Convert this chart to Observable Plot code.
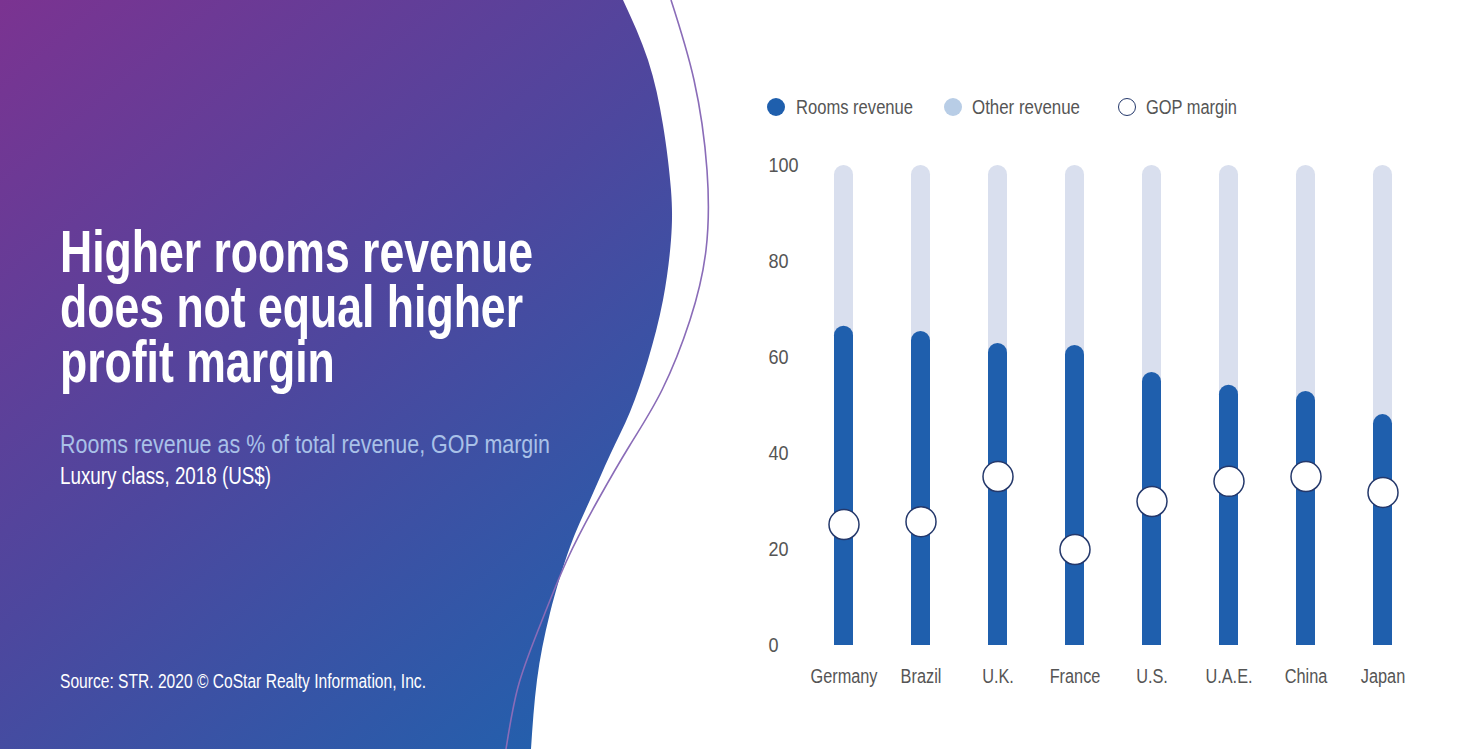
<!DOCTYPE html>
<html><head><meta charset="utf-8">
<script src="https://cdn.jsdelivr.net/npm/d3@7"></script>
<script src="https://cdn.jsdelivr.net/npm/@observablehq/plot@0.6"></script>
<style>
html,body{margin:0;padding:0;background:#fff}
body{width:1469px;height:749px;overflow:hidden;position:relative;font-family:"Liberation Sans",Arial,sans-serif}
#bg{position:absolute;left:0;top:0}
.t{position:absolute;white-space:nowrap;line-height:1;transform-origin:0 0}
.ttl{position:absolute;left:60px;white-space:nowrap;font-size:60px;line-height:55px;height:55px;font-weight:bold;color:#fff;transform-origin:0 0}
#sub{left:60px;top:431px;font-size:26px;color:#a9c1e8}
#sub2{left:60px;top:464.5px;font-size:23px;color:#fff}
#src{left:60px;top:671px;font-size:20px;color:#fff}
.lg{position:absolute;top:97px;font-size:20px;color:#555;line-height:20px;white-space:nowrap;transform-origin:0 0}
.sw{position:absolute;width:18px;height:18px;border-radius:50%;top:98px;box-sizing:border-box}
#chart{position:absolute;left:740px;top:140px}
</style></head><body>
<svg id="bg" width="1469" height="749"></svg>
<div class="ttl" style="top:224px" data-s="title">Higher rooms revenue</div>
<div class="ttl" style="top:279px" data-s="title">does not equal higher</div>
<div class="ttl" style="top:334px" data-s="title">profit margin</div>
<div id="sub" class="t" data-w="490">Rooms revenue as % of total revenue, GOP margin</div>
<div id="sub2" class="t" data-w="211">Luxury class, 2018 (US$)</div>
<div id="src" class="t" data-w="366">Source: STR. 2020 © CoStar Realty Information, Inc.</div>
<div id="legend"></div>
<div id="chart"></div>
<script>
// ---- data ----
const countries = ["Germany","Brazil","U.K.","France","U.S.","U.A.E.","China","Japan"];
const roomsRevenue = [66.5,65.4,62.9,62.5,56.9,54.2,52.9,48.1];
const totalRevenue = [100,100,100,100,100,100,100,100];
const gopMargin = [25.2,25.8,35.2,20.0,30.0,34.2,35.2,31.9];
const yTicks = [0,20,40,60,80,100];
const legendLabels = ["Rooms revenue","Other revenue","GOP margin"];

const colRooms = "#1f5fad", colOther = "#d9dfee", colOtherLegend = "#b8cde6", colGop = "#24386b";
const FONT = '"Liberation Sans",Arial,sans-serif';

// ---- decorative background ----
const bg = d3.select("#bg");
const defs = bg.append("defs");
const grad = defs.append("linearGradient").attr("id","g").attr("gradientUnits","userSpaceOnUse")
  .attr("x1",0).attr("y1",0).attr("x2",620).attr("y2",749);
grad.append("stop").attr("offset",0).attr("stop-color","#7b3391");
grad.append("stop").attr("offset",0.5).attr("stop-color","#4d479e");
grad.append("stop").attr("offset",1).attr("stop-color","#1f62ae");
const edge = [[623,0],[648,60],[663,125],[671,190],[671,240],[663,300],[648,360],[630,412],[610,455],[590,500],[570,547],[550,613],[537,680],[531,749]];
const curve = d3.line().curve(d3.curveNatural);
bg.append("path").attr("d", "M0,0L" + curve(edge).slice(1) + "L0,749Z").attr("fill","url(#g)");
const wave = [[671,0],[694,80],[707,170],[706,250],[690,320],[662,390],[630,445],[598,500],[567,560],[539,628],[518,687],[506,749]];
bg.append("path").attr("d", curve(wave)).attr("fill","none").attr("stroke","#8a6cb8").attr("stroke-width",1.6);

// ---- legend ----
const lg = d3.select("#legend");
const swX = [767,944,1118], txX = [796,972,1146], txW = [117,108,91];
const swStyle = [
  `background:${colRooms}`,
  `background:${colOtherLegend}`,
  `background:#fff;border:1.5px solid ${colGop}`
];
legendLabels.forEach((l,i)=>{
  lg.append("div").attr("class","sw").attr("style",`left:${swX[i]}px;${swStyle[i]}`);
  lg.append("div").attr("class","lg").attr("data-w",txW[i]).style("left",txX[i]+"px").text(l);
});

// condense HTML texts to the reference widths
document.querySelectorAll("[data-w]").forEach(el=>{
  const w = el.getBoundingClientRect().width;
  el.style.transform = `scaleX(${(+el.dataset.w)/w})`;
});
const titleLines = document.querySelectorAll("[data-s='title']");
const titleScale = 473 / titleLines[0].getBoundingClientRect().width;
titleLines.forEach(el => el.style.transform = `scaleX(${titleScale})`);

// ---- chart ----
const data = countries.map((c,i)=>({country:c, rooms:roomsRevenue[i], total:totalRevenue[i], gop:gopMargin[i]}));
const chart = Plot.plot({
  width: 700, height: 560,
  marginLeft: 92.5, marginRight: 46.5, marginTop: 25, marginBottom: 55,
  x: {domain: countries, paddingInner: 0.754, paddingOuter: 0, label: null},
  y: {domain: [0,100], label: null},
  style: {fontFamily: FONT, fontSize: "20px", color: "#555", background: "transparent", overflow: "visible"},
  marks: [
    Plot.barY(data, {x: "country", y: "total", fill: colOther, rx: 9.5}),
    Plot.barY(data, {x: "country", y: "rooms", fill: colRooms, rx: 9.5}),
    Plot.barY(data, {x: "country", y1: d => 0, y2: d => Math.min(10, d.rooms), fill: colRooms}),
    Plot.dot(data, {x: "country", y: "gop", r: 15, fill: "#fff", stroke: colGop, strokeWidth: 1.5}),
    Plot.axisY({ticks: yTicks, tickSize: 0, tickPadding: 64.5, textAnchor: "start", fontSize: 20, fill: "#555", label: null}),
    Plot.axisX({tickSize: 0, tickPadding: 23, fontSize: 20, fill: "#555", label: null})
  ]
});
document.getElementById("chart").appendChild(chart);
// condense axis tick labels (condensed typeface look)
d3.select(chart).selectAll("g[aria-label='x-axis tick label'] text").each(function(){
  this.setAttribute("textLength", this.getComputedTextLength()*0.815);
  this.setAttribute("lengthAdjust","spacingAndGlyphs");
});
d3.select(chart).selectAll("g[aria-label='y-axis tick label'] text").each(function(){
  this.setAttribute("textLength", this.getComputedTextLength()*0.9);
  this.setAttribute("lengthAdjust","spacingAndGlyphs");
});
</script>
</body></html>
